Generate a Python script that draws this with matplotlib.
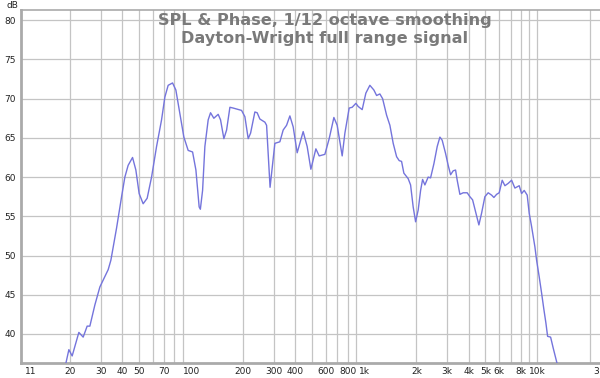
import matplotlib
matplotlib.use('Agg')
import matplotlib.pyplot as plt
import numpy as np

# SPL curve (Hz, dB)
freq = [18.56, 19.66, 20.54, 22.45, 23.78, 25.07, 25.99, 27.78, 29.70, 33.16,
        34.37, 37.07, 39.63, 41.40, 43.25, 45.86, 47.92, 50.06, 52.80, 55.69,
        59.05, 63.11, 67.45, 70.48, 73.64, 78.07, 81.58, 86.04, 90.74, 96.09,
        101.9, 106.5, 111.2, 113.0, 116.4, 120.0, 125.4, 129.4, 135.2, 143.2,
        147.8, 154.5, 160.2, 167.4, 174.9, 195.5, 204.3, 213.5, 220.4, 233.3,
        240.6, 249.4, 266.6, 272.7, 285.6, 304.4, 325.4, 340.0, 355.7, 371.7,
        388.4, 409.6, 443.6, 467.8, 491.4, 525.2, 548.8, 592.0, 627.0, 667.4,
        697.3, 745.3, 772.6, 818.1, 851.3, 894.3, 922.1, 972.5, 1021, 1077,
        1136, 1178, 1230, 1276, 1345, 1406, 1469, 1537, 1591, 1642,
        1693, 1793, 1851, 1916, 1979, 2048, 2115, 2172, 2239, 2339,
        2415, 2524, 2638, 2734, 2818, 2949, 3052, 3152, 3262, 3368,
        3441, 3567, 3727, 3930, 4074, 4223, 4412, 4592, 4760, 4973,
        5197, 5438, 5607, 5812, 6016, 6262, 6491, 6781, 7096, 7413,
        7850, 8104, 8389, 8731, 8966, 9257, 9674, 9894, 10240, 10576,
        10904, 11197, 11453, 11920, 12340, 12910, 13140]
spl = [35.5, 38.0, 37.2, 40.2, 39.6, 41.0, 41.0, 43.7, 46.0, 48.2,
       49.4, 53.5, 57.5, 60.0, 61.5, 62.5, 60.9, 57.9, 56.6, 57.3,
       60.0, 63.9, 67.3, 70.2, 71.7, 72.0, 71.1, 68.1, 65.1, 63.4,
       63.2, 60.9, 56.2, 55.9, 58.3, 63.9, 67.3, 68.2, 67.5, 68.0,
       67.3, 64.9, 66.0, 68.9, 68.8, 68.5, 67.7, 64.9, 65.6, 68.3,
       68.2, 67.4, 67.0, 66.6, 58.7, 64.3, 64.5, 66.0, 66.6, 67.8,
       66.4, 63.1, 65.8, 63.9, 61.0, 63.6, 62.7, 62.9, 64.9, 67.6,
       66.6, 62.7, 65.6, 68.8, 68.9, 69.4, 69.0, 68.6, 70.7, 71.7,
       71.1, 70.4, 70.6, 70.0, 67.9, 66.6, 64.3, 62.6, 62.1, 62.0,
       60.5, 59.8, 59.0, 56.2, 54.3, 55.8, 58.3, 59.7, 59.0, 60.0,
       59.9, 61.7, 63.9, 65.1, 64.7, 63.0, 61.5, 60.3, 60.8, 60.9,
       59.6, 57.8, 58.0, 58.0, 57.5, 57.1, 55.4, 53.9, 55.4, 57.5,
       58.0, 57.7, 57.4, 57.8, 58.0, 59.6, 58.9, 59.2, 59.6, 58.6,
       58.9, 57.9, 58.3, 57.7, 55.4, 53.7, 51.1, 49.4, 47.3, 45.2,
       43.1, 41.4, 39.7, 39.6, 38.2, 36.5, 35.8]

xtick_vals = [11, 20, 30, 40, 50, 70, 100, 200, 300, 400, 600, 800,
              1000, 2000, 3000, 4000, 5000, 6000, 8000, 10000]
xtick_labels = ['11', '20', '30', '40', '50', '70', '100', '200', '300', '400',
                '600', '800', '1k', '2k', '3k', '4k', '5k', '6k', '8k', '10k']
ytick_vals = [40, 45, 50, 55, 60, 65, 70, 75, 80]

fig = plt.figure(figsize=(6, 3.78), dpi=100)
# axes run past the right edge of the picture, like the cropped original
ax = fig.add_axes([21 / 600, 15 / 378, 599 / 600, 353 / 378])
ax.set_xscale('log')
ax.set_xlim(10.4, 30000)
ax.set_ylim(36.3, 81.3)

# grid lines
grid_x = [m * d for d in (10, 100, 1000) for m in range(2, 10)] + [10000, 20000, 30000]
for g in grid_x:
    ax.axvline(g, color='#c4c4c4', lw=0.9, zorder=1)
for g in ytick_vals:
    ax.axhline(g, color='#c4c4c4', lw=0.9, zorder=1)

ax.plot(freq, spl, color='#7474dc', lw=1.0, zorder=3)

ax.set_xticks(xtick_vals)
ax.set_xticklabels(xtick_labels)
ax.xaxis.set_minor_locator(matplotlib.ticker.NullLocator())
ax.set_yticks(ytick_vals)
ax.tick_params(length=0, labelsize=6.5, colors='#222222', pad=3)
ax.tick_params(axis='y', pad=4)
for lab in ax.get_xticklabels():
    if lab.get_text() == '11':
        lab.set_ha('left')

for s in ['left', 'bottom']:
    ax.spines[s].set_color('#aaaaaa')
    ax.spines[s].set_linewidth(2)
ax.spines['top'].set_color('#aaaaaa')
ax.spines['top'].set_linewidth(1.2)
ax.spines['right'].set_visible(False)

# partial label at the cropped right edge
fig.text(593 / 600, 1 - 371 / 378, '3', fontsize=6.5, color='#222222',
         ha='left', va='center')
fig.text(12 / 600, 1 - 5 / 378, 'dB', fontsize=6.5, color='#222222',
         ha='center', va='center')

fig.text(325 / 600, 1 - 20 / 378, 'SPL & Phase, 1/12 octave smoothing',
         fontsize=11.6, fontweight='bold', color='#7a7a7a', ha='center', va='center')
fig.text(325 / 600, 1 - 38 / 378, 'Dayton-Wright full range signal',
         fontsize=11.6, fontweight='bold', color='#7a7a7a', ha='center', va='center')

fig.savefig('out.png', dpi=100)
